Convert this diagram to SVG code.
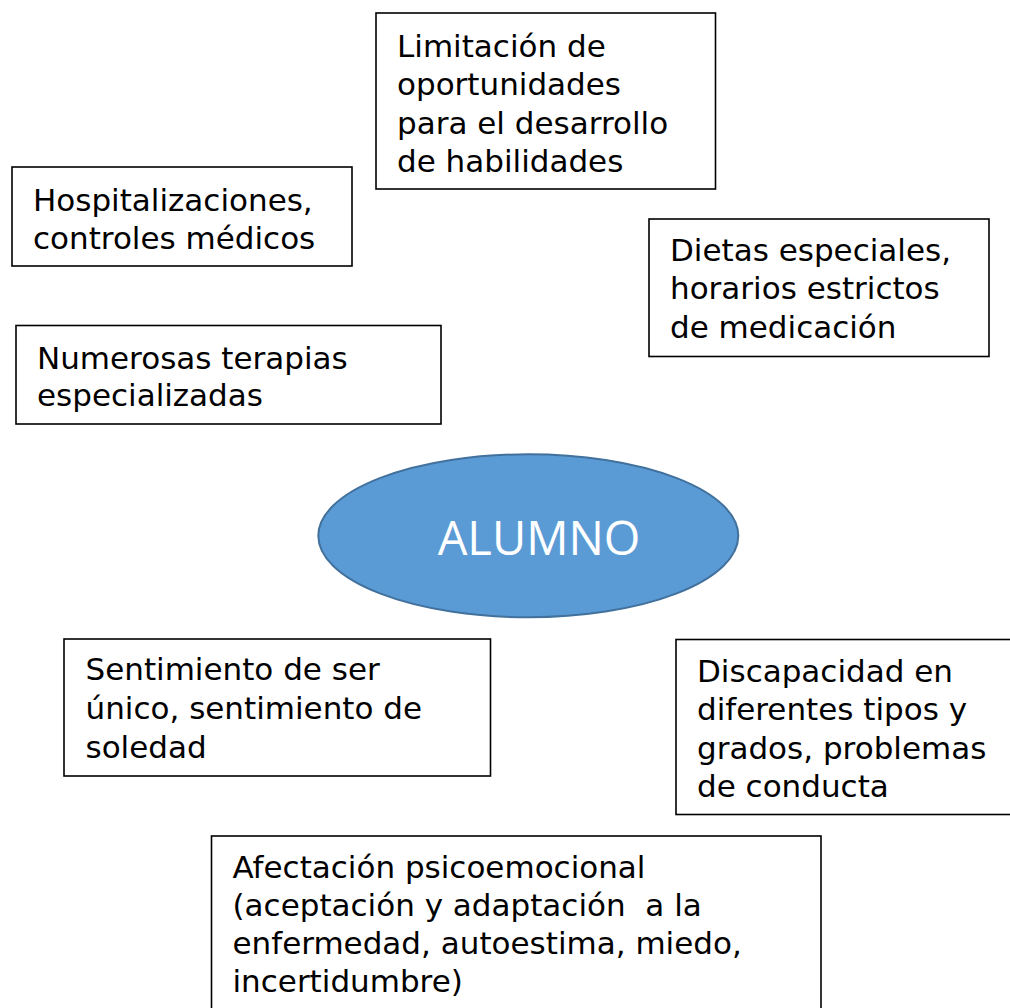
<svg xmlns="http://www.w3.org/2000/svg" width="1010" height="1008" viewBox="0 0 1010 1008">
<style>
.box{fill:#fff;stroke:#000;stroke-width:1.6}
.t{font-family:"DejaVu Sans",Verdana,sans-serif;font-size:31px;fill:#000}
.c{font-family:"Open Sans","Noto Sans",sans-serif;font-size:47px;fill:#fff;text-anchor:middle}
</style>
<rect width="1010" height="1008" fill="#fff"/>
<g id="connectors"></g>
<g id="n-limitacion">
<rect class="box" x="376" y="13" width="339.5" height="176"/>
<text class="t" x="397" y="56.5">Limitación de</text>
<text class="t" x="397" y="95">oportunidades</text>
<text class="t" x="397" y="133.5">para el desarrollo</text>
<text class="t" x="397" y="172">de habilidades</text>
</g>
<g id="n-hospitalizaciones">
<rect class="box" x="12" y="167" width="340" height="99"/>
<text class="t" x="33" y="210.5">Hospitalizaciones,</text>
<text class="t" x="33" y="248.5">controles médicos</text>
</g>
<g id="n-dietas">
<rect class="box" x="649" y="219" width="340" height="137.5"/>
<text class="t" x="670" y="260.5">Dietas especiales,</text>
<text class="t" x="670" y="299">horarios estrictos</text>
<text class="t" x="670" y="337.5">de medicación</text>
</g>
<g id="n-numerosas">
<rect class="box" x="16" y="325.5" width="425" height="98.5"/>
<text class="t" x="37" y="368.5">Numerosas terapias</text>
<text class="t" x="37" y="406">especializadas</text>
</g>
<g id="n-alumno">
<ellipse cx="528.3" cy="535.8" rx="210" ry="81.5" fill="#5B9BD5" stroke="#41719C" stroke-width="2"/>
<text class="c" x="539" y="555">ALUMNO</text>
</g>
<g id="n-sentimiento">
<rect class="box" x="64" y="639" width="426.5" height="137"/>
<text class="t" x="85.5" y="680">Sentimiento de ser</text>
<text class="t" x="85.5" y="719">único, sentimiento de</text>
<text class="t" x="85.5" y="758">soledad</text>
</g>
<g id="n-discapacidad">
<rect class="box" x="676" y="639.5" width="345" height="175"/>
<text class="t" x="697" y="681.5">Discapacidad en</text>
<text class="t" x="697" y="720">diferentes tipos y</text>
<text class="t" x="697" y="758.5">grados, problemas</text>
<text class="t" x="697" y="797">de conducta</text>
</g>
<g id="n-afectacion">
<rect class="box" x="211.5" y="836" width="609.5" height="190"/>
<text class="t" x="232.5" y="878">Afectación psicoemocional</text>
<text class="t" x="232.5" y="916" xml:space="preserve">(aceptación y adaptación  a la</text>
<text class="t" x="232.5" y="954">enfermedad, autoestima, miedo,</text>
<text class="t" x="232.5" y="992">incertidumbre)</text>
</g>
</svg>
